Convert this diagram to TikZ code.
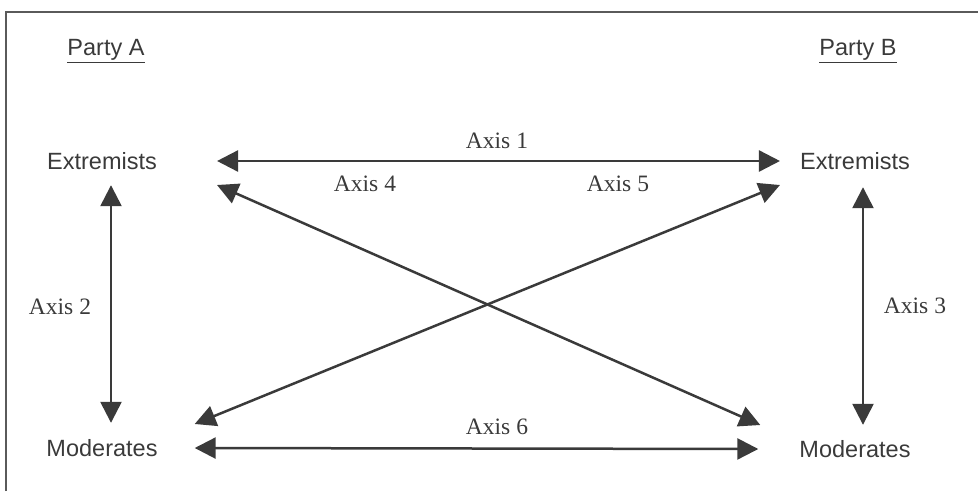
\documentclass[tikz,border=0pt]{standalone}
\usepackage{fontspec}
\setmainfont{Liberation Serif}
\newfontfamily\arialfont{Liberation Sans}
\usetikzlibrary{arrows.meta}
\definecolor{ink}{HTML}{3A3A3A}
\definecolor{framec}{HTML}{5A5A5A}
\tikzset{
  sanslabel/.style={font=\arialfont\fontsize{23.5}{28}\selectfont, text=ink, inner sep=0pt, text height=17pt, text depth=0pt},
  axislabel/.style={font=\fontsize{23.5}{28}\selectfont, text=ink, inner sep=0pt},
  axisarrow/.style={draw=ink, line width=2.5pt, {Triangle[length=21pt,width=21pt]}-{Triangle[length=21pt,width=21pt]}},
  framestyle/.style={draw=framec, line width=1.6pt}
}
\begin{document}
\begin{tikzpicture}[x=1pt,y=-1pt]
\useasboundingbox (0,0) rectangle (978,491);
\draw[framestyle] (6,491) -- (6,12) -- (978,12);

\node[sanslabel] (pa) at (106,47) {\underline{Party A}};
\node[sanslabel] (pb) at (858,47) {\underline{Party B}};
\node[sanslabel] (el) at (102,161) {Extremists};
\node[sanslabel] (er) at (855,161) {Extremists};
\node[sanslabel] (ml) at (102,448) {Moderates};
\node[sanslabel] (mr) at (855,449) {Moderates};

\draw[axisarrow] ([xshift=60pt]el.east) -- ([xshift=-20pt]er.west);
\draw[axisarrow] ([xshift=37pt]ml.east) -- ([xshift=-41pt]mr.west);
\draw[axisarrow] ([xshift=9pt,yshift=-15.5pt]el.south) -- ([xshift=9pt,yshift=16.5pt]ml.north);
\draw[axisarrow] ([xshift=8pt,yshift=-17.5pt]er.south) -- ([xshift=8pt,yshift=15.5pt]mr.north);
\draw[axisarrow] ([xshift=60pt,yshift=-24pt]el.east) -- ([xshift=-39pt,yshift=24pt]mr.west);
\draw[axisarrow] ([xshift=37pt,yshift=24pt]ml.east) -- ([xshift=-20pt,yshift=-24pt]er.west);

\node[axislabel] (a1) at (497,141) {Axis 1};
\node[axislabel] (a6) at (497,427) {Axis 6};
\node[axislabel] (a2) at (60,307) {Axis 2};
\node[axislabel] (a3) at (915,306) {Axis 3};
\node[axislabel] (a4) at (365,184) {Axis 4};
\node[axislabel] (a5) at (618,184) {Axis 5};
\end{tikzpicture}
\end{document}
